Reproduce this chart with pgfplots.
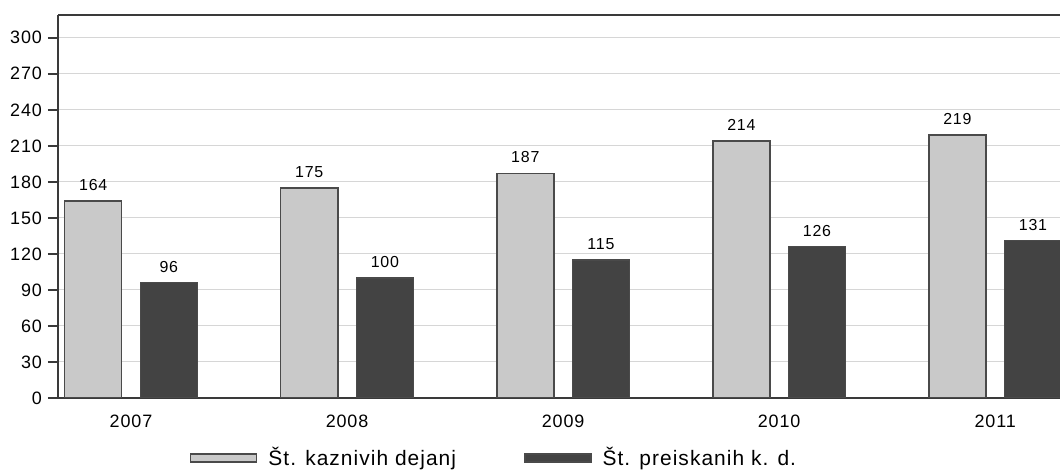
\documentclass[border=0pt]{standalone}
\usepackage{fontspec}
\setmainfont[LetterSpace=5]{Liberation Sans}
\usepackage{pgfplots}
\pgfplotsset{compat=1.18}
\definecolor{lightbar}{HTML}{C9C9C9}
\definecolor{darkbar}{HTML}{434343}
\definecolor{edge}{HTML}{4A4A4A}
\definecolor{axisc}{HTML}{3A3A3A}
\definecolor{gridc}{HTML}{D6D6D6}
\begin{document}
\begin{tikzpicture}
\begin{axis}[
  at={(0,0)}, anchor=south west,
  scale only axis,
  width=501bp, height=191.5bp,
  xmin=-0.338, xmax=4.30,
  ymin=0, ymax=319,
  axis lines*=left,
  axis line style={color=axisc, line width=0.75bp},
  ytick={0,30,...,300},
  xtick={0,1,2,3,4},
  xticklabels={2007,2008,2009,2010,2011},
  ymajorgrids,
  grid style={color=gridc, line width=0.5bp},
  y tick style={color=axisc, line width=0.75bp},
  x tick style={draw=none},
  tick align=outside,
  major tick length=5bp,
  yticklabel style={font=\fontsize{9}{10}\selectfont, xshift=0.5bp},
  xticklabel style={font=\fontsize{9}{10}\selectfont, yshift=0bp},
  /pgf/number format/assume math mode=true,
  ybar, bar width=0.264,
  nodes near coords,
  every node near coord/.append style={font=\fontsize{8}{9}\selectfont, yshift=1.5bp},
  legend columns=2,
  legend style={draw=none, fill=none, inner sep=0pt, outer sep=0pt,
    at={(0.1317,0)}, yshift=-30bp, anchor=west,
    font=\fontsize{10.5}{12}\selectfont,
    nodes={inner xsep=0pt, inner ysep=1pt},
    /tikz/every even column/.append style={column sep=34bp},
    /tikz/every odd column/.append style={column sep=5.5bp}},
  legend image code/.code={\draw[#1] (0bp,-2bp) rectangle (33bp,2bp);},
]
\addplot[fill=lightbar, draw=edge, line width=0.75bp, bar shift=-0.175] coordinates {(0,164) (1,175) (2,187) (3,214) (4,219)};
\addplot[fill=darkbar, draw=edge, line width=0.75bp, bar shift=0.175] coordinates {(0,96) (1,100) (2,115) (3,126) (4,131)};
\legend{Št. kaznivih dejanj, Št. preiskanih k. d.}
\draw[color=axisc, line width=1bp] (rel axis cs:0,1) -- (rel axis cs:1,1);
\end{axis}
\pgfresetboundingbox
\path[use as bounding box] (-29bp,-36.5bp) rectangle (501bp,199bp);
\end{tikzpicture}
\end{document}
